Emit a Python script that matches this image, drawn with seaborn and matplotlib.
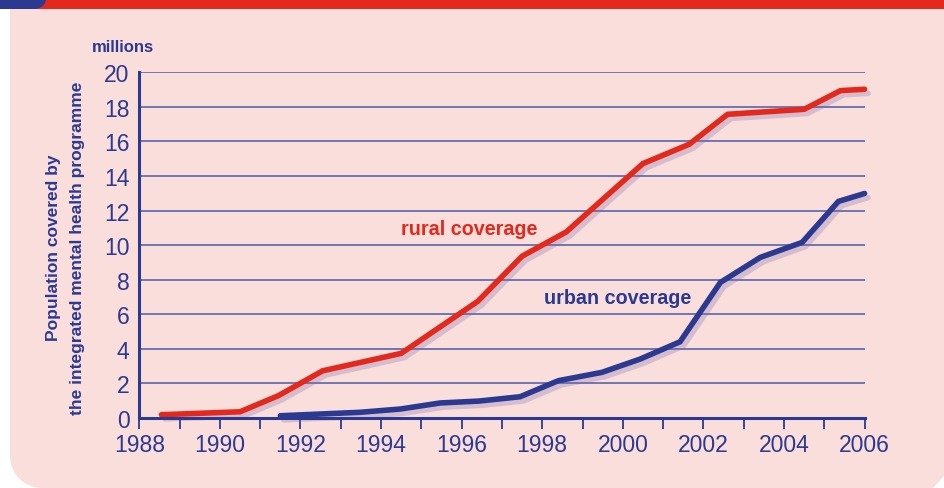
import numpy as np
import pandas as pd
import matplotlib
matplotlib.use("Agg")
import matplotlib.pyplot as plt
import matplotlib.patheffects as pe
from matplotlib.patches import Polygon, Rectangle
import seaborn as sns

# ---- data ----
rural_years = [1988.55, 1990.5, 1991.45, 1992.55, 1994.5, 1996.4, 1997.5, 1998.6,
               1999.55, 2000.5, 2001.65, 2002.6, 2004.5, 2005.4, 2006.0]
rural_values = [0.19, 0.36, 1.29, 2.73, 3.74, 6.75, 9.36, 10.77,
                12.75, 14.72, 15.84, 17.57, 17.86, 18.94, 19.02]
urban_years = [1991.5, 1993.48, 1994.48, 1995.47, 1996.43, 1997.45, 1998.4, 1999.48,
               2000.43, 2001.42, 2002.42, 2003.41, 2004.45, 2005.35, 2006.0]
urban_values = [0.13, 0.33, 0.52, 0.87, 0.98, 1.23, 2.16, 2.64,
                3.41, 4.41, 7.84, 9.29, 10.16, 12.53, 12.99]
x_ticks = list(range(1988, 2007, 2))
y_ticks = list(range(0, 21, 2))
series_labels = ["rural coverage", "urban coverage"]
y_title = "Population covered by\nthe integrated mental health programme"
unit_label = "millions"

RED = "#E4281C"
NAVY = "#2B3990"
PINK = "#FADEDC"
GRID = "#5A64AA"

sns.set_theme(style="white")
plt.rcParams["font.family"] = ["Liberation Sans", "DejaVu Sans"]
COND = ["Liberation Sans", "DejaVu Sans"]

W, H = 945, 489
fig = plt.figure(figsize=(W / 100, H / 100), dpi=100, facecolor="white")

def fx(px):
    return px / W

def fy(py):
    return 1 - py / H

# pink panel with rounded bottom-left and chamfered bottom-right
r = 32
pts = [(10, 10), (945, 10), (945, 476), (933, 489), (10 + r, 489)]
for a in np.linspace(np.pi / 2, np.pi, 20):
    pts.append((10 + r + r * np.cos(a), 489 - r + r * np.sin(a)))
pts.append((10, 10))
fig.add_artist(Polygon([(fx(x), fy(y)) for x, y in pts], closed=True,
                       transform=fig.transFigure, facecolor=PINK, edgecolor="none", zorder=0))
# top red band + blue tab
fig.add_artist(Rectangle((0, fy(10)), 1, 10 / H, transform=fig.transFigure,
                         facecolor=RED, edgecolor="none", zorder=1))
tab = [(0, 0), (46, 0)]
for a in np.linspace(0, np.pi / 2, 12):
    tab.append((34 + 12 * np.cos(a), 10 * np.sin(a)))
tab += [(0, 10)]
fig.add_artist(Polygon([(fx(x), fy(y)) for x, y in tab], closed=True,
                       transform=fig.transFigure, facecolor=NAVY, edgecolor="none", zorder=2))

ax = fig.add_axes([fx(139.3), fy(419), fx(864.6) - fx(139.3), fy(73.3) - fy(419)])
ax.set_facecolor("none")

df_r = pd.DataFrame({"year": rural_years, "value": rural_values})
df_u = pd.DataFrame({"year": urban_years, "value": urban_values})
shadow = [pe.SimpleLineShadow(offset=(2.5, -3), shadow_color="#7A6AA8", alpha=0.28, rho=1.0),
          pe.Normal()]
sns.lineplot(data=df_r, x="year", y="value", ax=ax, color=RED, lw=4.0,
             solid_capstyle="round", solid_joinstyle="miter", path_effects=shadow,
             zorder=5, clip_on=False, sort=False)
sns.lineplot(data=df_u, x="year", y="value", ax=ax, color=NAVY, lw=4.0,
             solid_capstyle="round", solid_joinstyle="miter", path_effects=shadow,
             zorder=5, clip_on=False, sort=False)

ax.set_xlim(1988, 2006)
ax.set_ylim(0, 20)
ax.set_xticks(x_ticks)
ax.set_xticks(range(1988, 2007), minor=True)
ax.set_yticks(y_ticks)
ax.set_xlabel("")
ax.set_ylabel("")
for y in y_ticks[1:]:
    ax.axhline(y, color=GRID, lw=1.2, zorder=1)

for s in ["top", "right"]:
    ax.spines[s].set_visible(False)
for s in ["left", "bottom"]:
    ax.spines[s].set_color(NAVY)
    ax.spines[s].set_linewidth(2.2)
    ax.spines[s].set_zorder(6)

ax.tick_params(axis="x", which="both", direction="out", length=8, width=1.3,
               color=NAVY, bottom=True, pad=3)
ax.tick_params(axis="x", which="major", labelsize=16.5, labelcolor=NAVY)
ax.tick_params(axis="y", which="major", length=0, pad=7, labelsize=16.5, labelcolor=NAVY)

ax.text(1994.5, 10.95, series_labels[0], color=RED, fontsize=14.2, fontweight="bold",
        family=COND, ha="left", va="center")
ax.text(1998.05, 7.0, series_labels[1], color=NAVY, fontsize=14.2, fontweight="bold",
        family=COND, ha="left", va="center")

fig.text(fx(123), fy(48), unit_label, color=NAVY, fontsize=12, fontweight="bold",
         family=COND, ha="center", va="center")
fig.text(fx(66), fy(248), y_title, color=NAVY, fontsize=12.5, fontweight="bold",
         family=COND, ha="center", va="center", rotation=90, linespacing=1.75)

fig.savefig("out.png", dpi=100, facecolor="white")
